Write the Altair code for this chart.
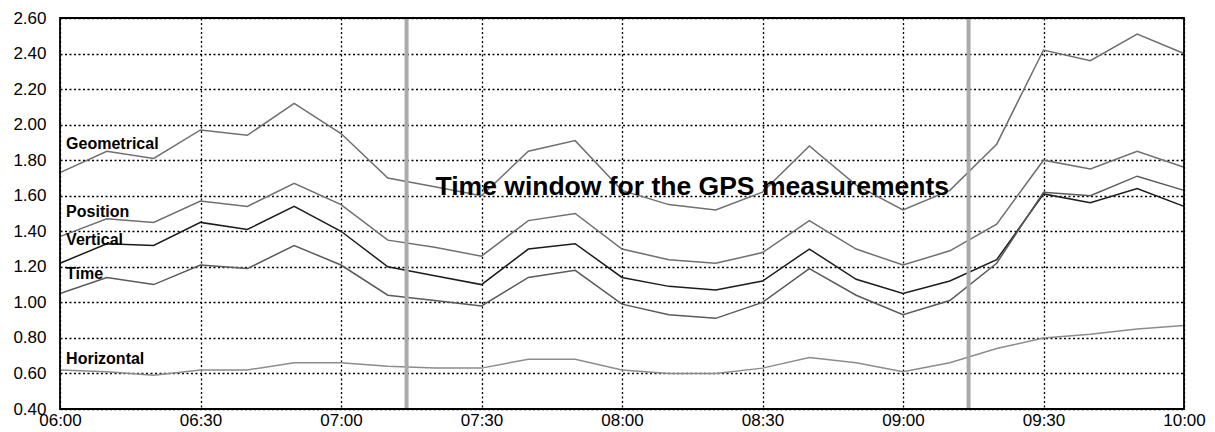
import altair as alt
import pandas as pd

times = ["06:00", "06:10", "06:20", "06:30", "06:40", "06:50", "07:00", "07:10", "07:20",
         "07:30", "07:40", "07:50", "08:00", "08:10", "08:20", "08:30", "08:40", "08:50",
         "09:00", "09:10", "09:20", "09:30", "09:40", "09:50", "10:00"]

geometrical = [1.73, 1.85, 1.81, 1.97, 1.94, 2.12, 1.95, 1.70, 1.65, 1.60, 1.85, 1.91, 1.63,
               1.55, 1.52, 1.62, 1.88, 1.66, 1.52, 1.63, 1.89, 2.42, 2.36, 2.51, 2.40]
position = [1.37, 1.47, 1.45, 1.57, 1.54, 1.67, 1.55, 1.35, 1.31, 1.26, 1.46, 1.50, 1.30,
            1.24, 1.22, 1.28, 1.46, 1.30, 1.21, 1.29, 1.44, 1.80, 1.75, 1.85, 1.76]
vertical = [1.22, 1.33, 1.32, 1.45, 1.41, 1.54, 1.40, 1.20, 1.15, 1.10, 1.30, 1.33, 1.14,
            1.09, 1.07, 1.12, 1.30, 1.13, 1.05, 1.12, 1.24, 1.61, 1.56, 1.64, 1.54]
time_dop = [1.05, 1.14, 1.10, 1.21, 1.19, 1.32, 1.21, 1.04, 1.01, 0.98, 1.14, 1.18, 0.99,
            0.93, 0.91, 1.00, 1.19, 1.04, 0.93, 1.01, 1.22, 1.62, 1.60, 1.71, 1.63]
horizontal = [0.62, 0.61, 0.59, 0.62, 0.62, 0.66, 0.66, 0.64, 0.63, 0.63, 0.68, 0.68, 0.62,
              0.60, 0.60, 0.63, 0.69, 0.66, 0.61, 0.66, 0.74, 0.80, 0.82, 0.85, 0.87]

series_names = ["Geometrical", "Position", "Vertical", "Time", "Horizontal"]
series_values = [geometrical, position, vertical, time_dop, horizontal]
series_colors = ["#6f6f6f", "#6f6f6f", "#1c1c1c", "#5a5a5a", "#8c8c8c"]

label_y = [1.89, 1.51, 1.35, 1.16, 0.68]
label_time = "06:01"

window_times = ["07:14", "09:14"]
title_text = "Time window for the GPS measurements"
title_time = "08:15"
title_y = 1.65

y_ticks = [0.40, 0.60, 0.80, 1.00, 1.20, 1.40, 1.60, 1.80, 2.00, 2.20, 2.40, 2.60]

W, H = 1124, 391


def to_min(t):
    h, m = t.split(":")
    return (int(h) - 6) * 60 + int(m)


rows = []
for name, vals in zip(series_names, series_values):
    for t, v in zip(times, vals):
        rows.append({"series": name, "t": to_min(t), "v": v})
df = pd.DataFrame(rows)

xscale = alt.Scale(domain=[0, 240], nice=False, zero=False)
yscale = alt.Scale(domain=[0.4, 2.6], nice=False, zero=False)

xaxis = alt.Axis(values=list(range(0, 241, 30)),
                 labelExpr="format(floor(datum.value/60)+6,'02d') + ':' + format(datum.value%60,'02d')",
                 title=None, grid=True, gridColor="#000", gridDash=[2, 2.5], gridWidth=1.3,
                 ticks=False, domain=False, labelFont="Liberation Sans", labelFontSize=17,
                 labelColor="#000", labelPadding=3, labelFlush=False, labelOverlap=False)
yaxis = alt.Axis(values=y_ticks, format=".2f",
                 title=None, grid=True, gridColor="#000", gridDash=[2, 2.5], gridWidth=1.3,
                 ticks=False, domain=False, labelFont="Liberation Sans", labelFontSize=17,
                 labelColor="#000", labelPadding=14, labelOverlap=False, labelFlush=False)

X = alt.X("t:Q", scale=xscale, axis=xaxis)
Y = alt.Y("v:Q", scale=yscale, axis=yaxis)

lines = alt.Chart(df).mark_line(strokeWidth=1.5).encode(
    x=X, y=Y,
    color=alt.Color("series:N", scale=alt.Scale(domain=series_names, range=series_colors), legend=None),
    detail="series:N",
)

win_df = pd.DataFrame({"t": [to_min(t) for t in window_times]})
windows = alt.Chart(win_df).mark_rule(color="#ababab", strokeWidth=4).encode(x=X)

lab_df = pd.DataFrame({"name": series_names, "v": label_y,
                       "t": [to_min(label_time) + 0.3] * len(series_names)})
labels = alt.Chart(lab_df).mark_text(align="left", baseline="middle", font="Liberation Sans",
                                      fontWeight="bold", fontSize=16, color="#000").encode(
    x=X, y=Y, text="name:N")

ttl_df = pd.DataFrame({"txt": [title_text], "t": [to_min(title_time)], "v": [title_y]})
ttl = alt.Chart(ttl_df).mark_text(align="center", baseline="middle", font="Liberation Sans",
                                  fontWeight="bold", fontSize=26.5, color="#000").encode(
    x=X, y=Y, text="txt:N")

frame = alt.Chart(pd.DataFrame({"k": [0]})).mark_rect(
    fill=None, fillOpacity=0, stroke="#000", strokeWidth=1.8).encode(
    x=alt.value(0), x2=alt.value(W), y=alt.value(0), y2=alt.value(H))

chart = alt.layer(lines, windows, labels, ttl, frame).properties(
    width=W, height=H,
    autosize=alt.AutoSizeParams(type="none"),
    padding={"left": 52, "top": 10, "right": 23, "bottom": 23},
).configure_view(stroke=None).configure(background="white")

chart.save("out.html", embed_options={"renderer": "svg", "actions": False})
